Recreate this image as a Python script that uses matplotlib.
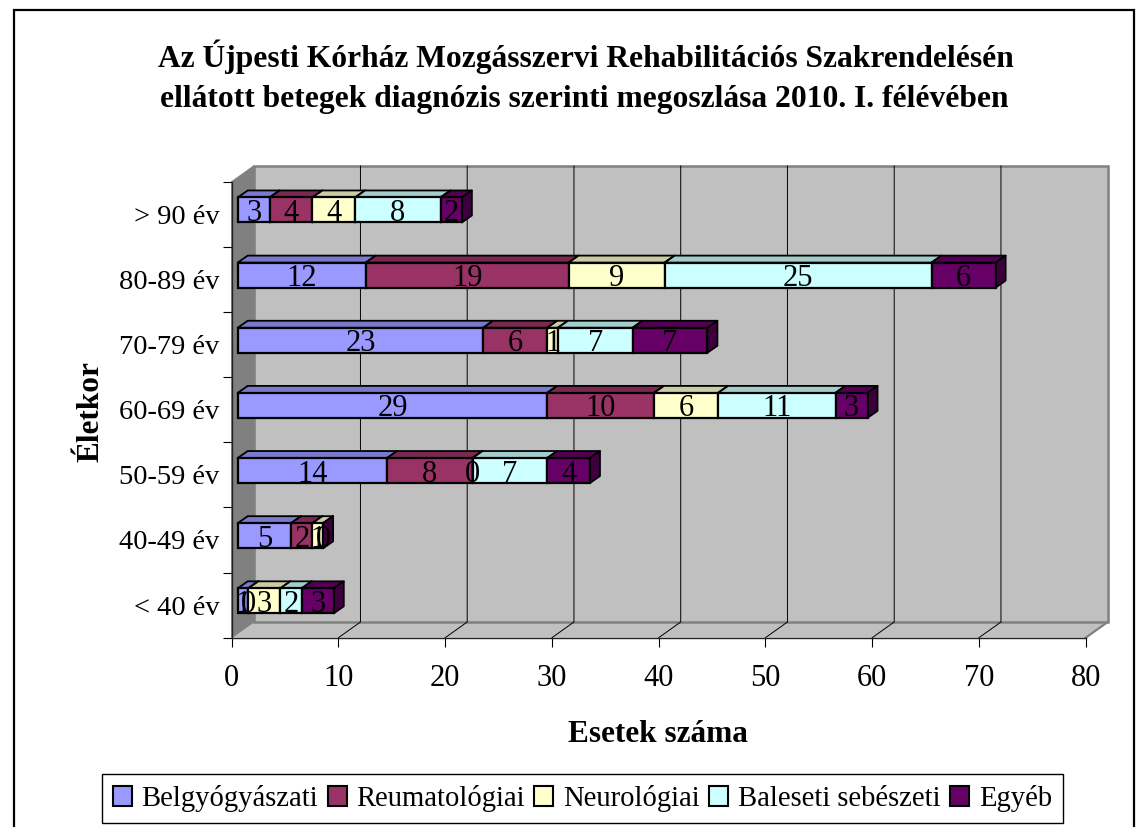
import numpy as np
import matplotlib
matplotlib.use("Agg")
import matplotlib.pyplot as plt
from matplotlib.patches import Patch, Rectangle

plt.rcParams['font.family'] = ['Liberation Serif', 'DejaVu Serif']

categories = ['< 40 év', '40-49 év', '50-59 év', '60-69 év', '70-79 év', '80-89 év', '> 90 év']
belgyogyaszati = [1, 5, 14, 29, 23, 12, 3]
reumatologiai = [0, 2, 8, 10, 6, 19, 4]
neurologiai = [3, 1, 0, 6, 1, 9, 4]
baleseti = [2, np.nan, 7, 11, 7, 25, 8]
egyeb = [3, 0, 4, 3, 7, 6, 2]
series_names = ['Belgyógyászati', 'Reumatológiai', 'Neurológiai', 'Baleseti sebészeti', 'Egyéb']
series = [belgyogyaszati, reumatologiai, neurologiai, baleseti, egyeb]
front = ['#9999FF', '#993366', '#FFFFCC', '#CCFFFF', '#660066']
top = ['#7A7ACC', '#7A2952', '#CCCCA3', '#A3CCCC', '#520052']
side = ['#5C5C99', '#5C1F3D', '#99997A', '#7A9999', '#3D003D']
xticks = [0, 10, 20, 30, 40, 50, 60, 70, 80]

W, H = 1136, 827
fig = plt.figure(figsize=(W / 100, H / 100), dpi=100, facecolor='white')
L, R, B, T = 231.7, 1085.7, 637.7, 181.7
ax = fig.add_axes([L / W, 1 - B / H, (R - L) / W, (B - T) / H])
ax.set_xlim(0, 80)
ax.set_ylim(0, len(categories))
ax.set_facecolor('none')

px = 80 / (R - L)
py = len(categories) / (B - T)
wall_dx, wall_dy = 22 * px, 15.7 * py
ymax = len(categories)
GRAY = '#808080'
WALL = '#C0C0C0'
FS = 20.5
NUM_FS = 22

# walls
ax.fill([0, 80, 80 + wall_dx, wall_dx], [0, 0, wall_dy, wall_dy], fc=WALL, ec='none', clip_on=False, zorder=1)
ax.fill([wall_dx, 80 + wall_dx, 80 + wall_dx, wall_dx], [wall_dy, wall_dy, ymax + wall_dy, ymax + wall_dy],
        fc=WALL, ec=GRAY, lw=1.8, clip_on=False, zorder=1, joinstyle='miter')
ax.fill([0, wall_dx, wall_dx, 0], [0, wall_dy, ymax + wall_dy, ymax], fc=GRAY, ec=GRAY, lw=0.8, clip_on=False, zorder=1.1)
ax.plot([80, 80 + wall_dx], [0, wall_dy], color=GRAY, lw=1.6, clip_on=False, zorder=1.2)
for v in xticks[1:-1]:
    ax.plot([v, v + wall_dx, v + wall_dx], [0, wall_dy, ymax + wall_dy], color='black', lw=0.7, clip_on=False, zorder=1.3)

# stacked bars
bar_h = 25 * py
off_x, off_y = 6 * px, 4.3 * py
dep_x, dep_y = 10 * px, 7 * py
for i, cat in enumerate(categories):
    left = off_x
    yc = i + 0.5 + off_y
    y0, y1 = yc - bar_h / 2, yc + bar_h / 2
    labels = []
    for s, vals in enumerate(series):
        v = vals[i]
        if np.isnan(v):
            continue
        z = 3 + s * 0.1
        ax.fill([left, left + v, left + v + dep_x, left + dep_x], [y1, y1, y1 + dep_y, y1 + dep_y],
                fc=top[s], ec='black', lw=1.3, clip_on=False, zorder=z, joinstyle='round')
        ax.fill([left + v, left + v + dep_x, left + v + dep_x, left + v], [y0, y0 + dep_y, y1 + dep_y, y1],
                fc=side[s], ec='black', lw=1.3, clip_on=False, zorder=z, joinstyle='round')
        ax.barh(yc, v, height=bar_h, left=left, color=front[s], edgecolor='black', lw=1.6, clip_on=False, zorder=z)
        labels.append((left + v / 2, yc, v))
        left += v
    for x, y, v in labels:
        ax.text(x, y, f'{int(v)}', ha='center', va='center_baseline', fontsize=NUM_FS, color='black', zorder=6, clip_on=False)

# axes
for k in ('top', 'right'):
    ax.spines[k].set_visible(False)
for k in ('left', 'bottom'):
    ax.spines[k].set_color('#222222')
    ax.spines[k].set_linewidth(1.0)
    ax.spines[k].set_zorder(2)
ax.set_xticks(xticks)
ax.set_xticklabels([str(v) for v in xticks], fontsize=NUM_FS)
ax.set_yticks(range(len(categories) + 1))
ax.set_yticklabels([])
ax.set_yticks(np.arange(len(categories)) + 0.5, minor=True)
ax.set_yticklabels(categories, minor=True, fontsize=FS, va='center_baseline')
ax.tick_params(axis='x', length=6.5, width=0.8, pad=12.5)
ax.tick_params(axis='y', which='major', length=6.5, width=0.8)
ax.tick_params(axis='y', which='minor', length=0, pad=9)

# text
fig.text(586 / W, 1 - 57 / H, 'Az Újpesti Kórház Mozgásszervi Rehabilitációs Szakrendelésén', ha='center', va='center',
         fontsize=22.7, fontweight='bold')
fig.text(584 / W, 1 - 99 / H, 'ellátott betegek diagnózis szerinti megoszlása 2010. I. félévében', ha='center', va='center',
         fontsize=22.7, fontweight='bold')
fig.text(658 / W, 1 - 734 / H, 'Esetek száma', ha='center', va='center', fontsize=22.5, fontweight='bold')
fig.text(91 / W, 1 - 412 / H, 'Életkor', ha='center', va='center', rotation=90, fontsize=22.5, fontweight='bold')

# frame
fig.add_artist(Rectangle((14 / W, -0.05), (1134 - 14) / W, 1.05 - 10 / H, transform=fig.transFigure,
                         fc='none', ec='black', lw=1.6, zorder=0))

# legend
handles = [Patch(fc=c, ec='black', lw=1.5) for c in front]
leg = fig.legend(handles, series_names, loc='center', bbox_to_anchor=(582.5 / W, 1 - 798.5 / H), ncol=5,
                 fontsize=20.6, frameon=True, fancybox=False, edgecolor='black', framealpha=1,
                 handlelength=0.66, handleheight=0.72, handletextpad=0.35, columnspacing=0.33, borderpad=0.38, borderaxespad=0)
leg.get_frame().set_linewidth(1.0)

fig.savefig('out.png', dpi=100)
